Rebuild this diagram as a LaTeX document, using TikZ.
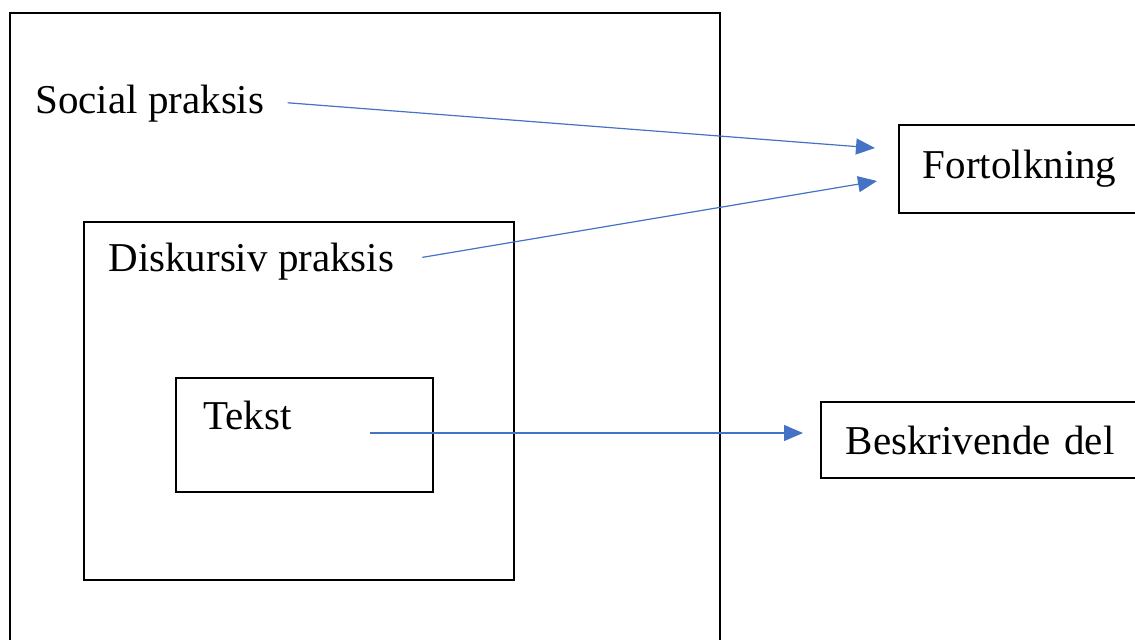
\documentclass[tikz,border=0pt]{standalone}
\usepackage{fontspec}
\setmainfont{Liberation Serif}
\usetikzlibrary{arrows.meta}
\definecolor{pilblaa}{HTML}{4472C4}
\begin{document}
\begin{tikzpicture}[x=0.5pt,y=-0.5pt,
  tekst/.style={font=\fontsize{20.5}{24}\selectfont, inner sep=0pt, anchor=west},
  boks/.style={draw, line width=0.8pt, font=\fontsize{20.5}{24}\selectfont, anchor=west, align=left},
  ramme/.style={draw, line width=0.8pt},
  pil/.style={draw=pilblaa, line width=0.6pt, -{Triangle[length=9.5pt,width=8pt]}}]
  \useasboundingbox (0,0) rectangle (1135,639);
  \clip (0,0) rectangle (1135,639);
  % rammer
  \draw[ramme] (10,13) rectangle (720,670);
  \draw[ramme] (84,222) rectangle (514,580);
  \draw[ramme] (176,378) rectangle (433,492);
  % tekster
  \node[tekst] (social) at (35,104) {Social praksis};
  \node[tekst] (diskursiv) at (108,262) {Diskursiv praksis};
  \node[tekst] (tekststr) at (203,415) {Tekst};
  \node[boks, minimum height=44pt, inner xsep=12pt, text width=107pt] (fort) at (898,169) {Fortolkning};
  \node[boks, minimum height=38pt, inner xsep=12.5pt, text width=145pt] (beskriv) at (820,440) {Beskrivende del};
  % pile
  \coordinate (fort-a) at (875,148);
  \coordinate (fort-b) at (877,181);
  \coordinate (tekst-ud) at (370,433);
  \draw[pil, shorten <=11.5pt] ([yshift=1.5pt]social.east) -- (fort-a);
  \draw[pil, shorten <=14pt] (diskursiv.east) -- (fort-b);
  \draw[pil, shorten >=8.5pt] (tekst-ud) -- (tekst-ud -| beskriv.west);
\end{tikzpicture}
\end{document}
